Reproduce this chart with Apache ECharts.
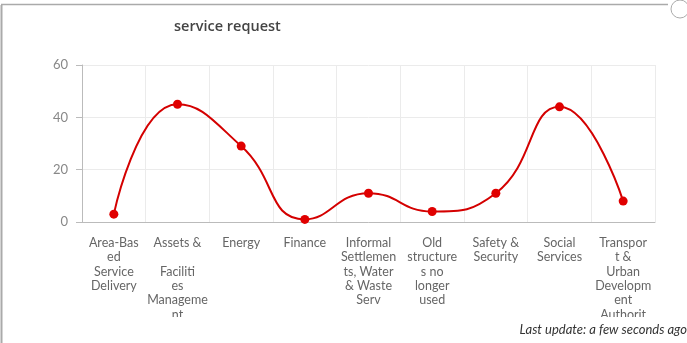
<!DOCTYPE html>
<html>
<head>
<meta charset="utf-8">
<title>service request</title>
<script src="https://cdn.jsdelivr.net/npm/echarts@6/dist/echarts.min.js"></script>
<style>
  html, body { margin: 0; padding: 0; background: #fff; }
  #chart { width: 687px; height: 343px; }
</style>
</head>
<body>
<div id="chart"></div>
<script>
const categories = [
  'Area-Based Service Delivery',
  'Assets & Facilities Management',
  'Energy',
  'Finance',
  'Informal Settlements, Water & Waste Serv',
  'Old structures no longer used',
  'Safety & Security',
  'Social Services',
  'Transport & Urban Development Authority'
]
// labels as they wrap in the picture
const tickLabels = [
  'Area-Bas\ned\nService\nDelivery',
  'Assets &\n\nFaciliti\nes\nManageme\nnt',
  'Energy',
  'Finance',
  'Informal\nSettlemen\nts, Water\n& Waste\nServ',
  'Old\nstructure\ns no\nlonger\nused',
  'Safety &\nSecurity',
  'Social\nServices',
  'Transpor\nt &\nUrban\nDevelopm\nent\nAuthorit'
]
const counts = [3, 45, 29, 1, 11, 4, 11, 44, 8]
const yTicks = [0, 20, 40, 60]

const chart = echarts.init(document.getElementById('chart'))
const font = 'Lato, "Noto Sans", sans-serif'

chart.setOption({
  animation: false,
  title: {
    text: 'service request',
    left: 169,
    top: 14,
    textStyle: { fontFamily: '"Open Sans", sans-serif', fontSize: 14.5, fontWeight: 600, color: '#444' }
  },
  grid: { left: 82, right: 32, top: 65, bottom: 121 },
  xAxis: {
    type: 'category',
    data: categories,
    axisLine: { lineStyle: { color: '#bbb' } },
    axisTick: { alignWithLabel: true, length: 5, lineStyle: { color: '#bbb' } },
    splitLine: { show: true, lineStyle: { color: '#ebebeb' } },
    axisLabel: {
      interval: 0,
      margin: 14,
      fontFamily: font,
      fontSize: 12.5,
      lineHeight: 14.3,
      color: '#666',
      formatter: (v, i) => tickLabels[i]
    }
  },
  yAxis: {
    type: 'value',
    min: yTicks[0],
    max: yTicks[yTicks.length - 1],
    interval: 20,
    axisLine: { show: true, lineStyle: { color: '#bbb' } },
    axisTick: { show: true, length: 6, lineStyle: { color: '#bbb' } },
    splitLine: { lineStyle: { color: '#ebebeb' } },
    axisLabel: { margin: 14, fontFamily: font, fontSize: 13, color: '#888' }
  },
  series: [{
    type: 'line',
    data: counts,
    smooth: 0.5,
    symbol: 'circle',
    symbolSize: 9,
    itemStyle: { color: '#e00000' },
    lineStyle: { color: '#d40000', width: 2 }
  }],
  graphic: [
    // clip the overflowing axis labels
    { type: 'rect', z: 100, shape: { x: 80, y: 317, width: 590, height: 5 }, style: { fill: '#fff' } },
    { type: 'line', z: 100, shape: { x1: 1.5, y1: 5, x2: 1.5, y2: 343 }, style: { stroke: '#aaa', lineWidth: 2 } },
    { type: 'line', z: 100, shape: { x1: 1, y1: 4.5, x2: 668, y2: 4.5 }, style: { stroke: '#aaa', lineWidth: 1.5 } },
    { type: 'circle', z: 100, shape: { cx: 680, cy: 9, r: 9 }, style: { fill: '#fff', stroke: '#aaa', lineWidth: 1 } },
    {
      type: 'text', z: 100, right: 0, top: 323,
      style: { text: 'Last update: a few seconds ago', font: 'italic 13px ' + font, fill: '#333' }
    }
  ]
})
</script>
</body>
</html>
